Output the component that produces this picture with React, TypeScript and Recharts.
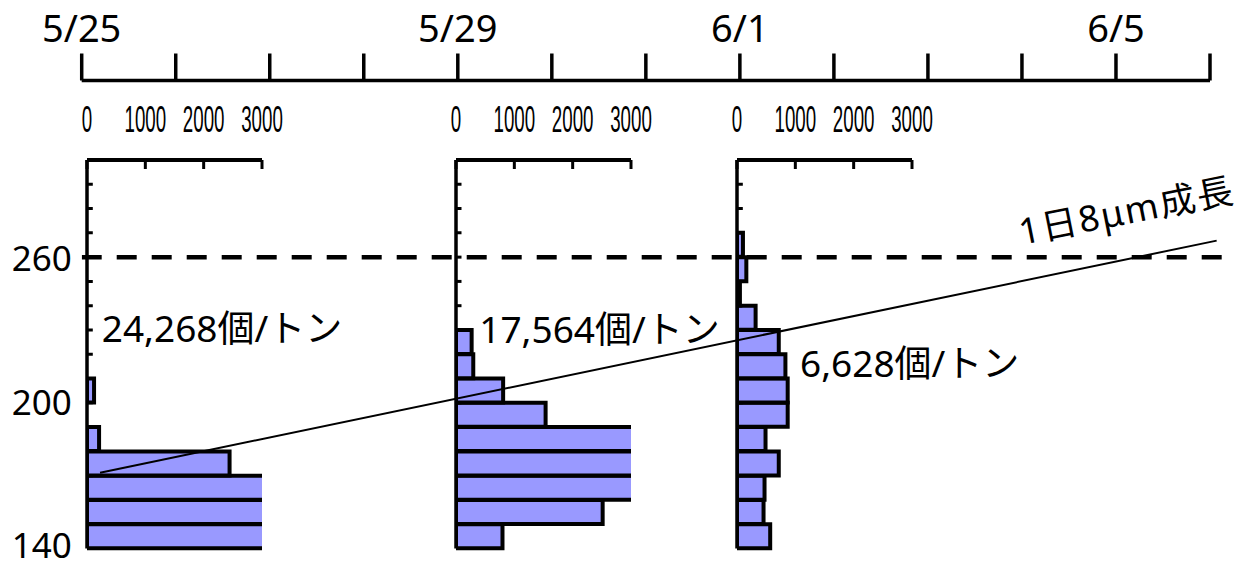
import React from 'react';
import { ComposedChart, BarChart, LineChart, Bar, Line, Scatter, XAxis, YAxis, ReferenceDot } from 'recharts';

const FONT = "'Noto Sans', 'Noto Sans CJK JP', sans-serif";

// shell length bins (lower edge, μm)
const bins = [140, 150, 160, 170, 180, 190, 200, 210, 220, 230, 240, 250, 260, 270, 280, 290];
// larvae per ton in each bin (bars beyond 3000 are clipped by the axis, as in the original)
const countsMay25 = [6800, 7900, 6796, 2444, 207, 0, 121, 0, 0, 0, 0, 0, 0, 0, 0, 0];
const countsMay29 = [797, 2514, 3300, 4400, 3645, 1536, 808, 296, 268, 0, 0, 0, 0, 0, 0, 0];
const countsJun1 = [569, 455, 472, 716, 489, 869, 869, 830, 716, 319, 50, 160, 102, 0, 0, 0];

const countTicks = [0, 1000, 2000, 3000];
const lengthTicks = [140, 150, 160, 170, 180, 190, 200, 210, 220, 230, 240, 250, 260, 270, 280, 290, 300];
const yLabelTicks = [140, 200, 260];

// timeline (days since 5/25)
const timelineDays = [0, 1, 2, 3, 4, 5, 6, 7, 8, 9, 10, 11, 12];
const dateLabels = ['5/25', '', '', '', '5/29', '', '', '6/1', '', '', '', '6/5', ''];

// where each histogram's length axis stands on the time axis (days since 5/25)
const histAxisDays = [0.0596, 3.9805, 6.9723];

// threshold line (260 μm) and growth line (8 μm / day)
const thresholdLine = [
  { day: 0.0, len: 260 },
  { day: 12.14, len: 260 },
];
const growthLine = [
  { day: 0.195, len: 171.2 },
  { day: 12.07, len: 266.8 },
];

const densityLabels = ['24,268個/トン', '17,564個/トン', '6,628個/トン'];
const growthLabel = '1日8μm成長';

const annotations = [
  { text: densityLabels[0], day: 0.213, len: 225.2, size: 37, angle: 0, spacing: 0 },
  { text: densityLabels[1], day: 4.228, len: 224.5, size: 37, angle: 0, spacing: 0 },
  { text: densityLabels[2], day: 7.639, len: 210.8, size: 37, angle: 0, spacing: 0 },
  { text: growthLabel, day: 9.997, len: 265.0, size: 36, angle: -11.3, spacing: 2 },
];

const NoTick = () => <g />;

// condensed tick labels (0 1000 2000 3000)
const CountTick = (props: any) => {
  const { x, y, payload } = props;
  const s = String(payload.value);
  return (
    <text
      transform={`translate(${x} ${y}) scale(0.52 1)`}
      x={0}
      y={0}
      textAnchor="middle"
      fontFamily="'Liberation Sans', Arial, sans-serif"
      fontSize={36}
      fill="#000"
    >
      {s}
    </text>
  );
};

// inward tick marks on each histogram's length axis
const TickMark = (p: any) => (
  <line x1={p.cx} y1={p.cy} x2={p.cx + 5.5} y2={p.cy} stroke="#000" strokeWidth={3} />
);

function Histogram({ counts, left }: { counts: number[]; left: number }) {
  const data = bins.map((b, i) => ({ bin: b, n: counts[i] }));
  return (
    <div style={{ position: 'absolute', left: left - 10, top: 99 }}>
      <BarChart
        layout="vertical"
        width={225}
        height={461.5}
        data={data}
        margin={{ top: 20, right: 40, bottom: 12, left: 10 }}
        barCategoryGap={0}
        barGap={0}
      >
        <Bar
          xAxisId="frame"
          yAxisId="cat"
          dataKey="n"
          fill="#9999ff"
          stroke="#000"
          strokeWidth={4}
          isAnimationActive={false}
        />
        <YAxis yAxisId="cat" type="category" dataKey="bin" reversed hide />
        <YAxis
          yAxisId="num"
          type="number"
          domain={[140, 300]}
          allowDataOverflow
          ticks={lengthTicks}
          interval={0}
          mirror
          tickSize={5}
          tick={<NoTick />}
          axisLine={{ stroke: '#000', strokeWidth: 3.5 }}
          tickLine={false}
        />
        <XAxis
          xAxisId="frame"
          type="number"
          orientation="top"
          mirror
          domain={[0, 3000]}
          allowDataOverflow
          ticks={countTicks}
          interval={0}
          tickSize={9}
          tick={<NoTick />}
          axisLine={{ stroke: '#000', strokeWidth: 4 }}
          tickLine={{ stroke: '#000', strokeWidth: 3 }}
        />
        <XAxis
          xAxisId="labels"
          type="number"
          orientation="top"
          height={41}
          domain={[0, 3000]}
          allowDataOverflow
          ticks={countTicks}
          interval={0}
          axisLine={false}
          tickLine={false}
          tickSize={0}
          tickMargin={28}
          tick={<CountTick />}
        />
      </BarChart>
    </div>
  );
}

const makeNote = (a: any) => (p: any) => {
  const vb = p.viewBox || {};
  const x = vb.x ?? 0;
  const y = vb.y ?? 0;
  return (
    <text
      x={x}
      y={y}
      fontSize={a.size}
      fill="#000"
      fontFamily={FONT}
      letterSpacing={a.spacing}
      transform={a.angle ? `rotate(${a.angle} ${x} ${y})` : undefined}
    >
      {a.text}
    </text>
  );
};

const YLabelTick = (props: any) => {
  const { x, y, payload } = props;
  const lift = payload.value === 140 ? -3 : payload.value === 260 ? 1.5 : 0;
  return (
    <text x={x} y={y + lift} dy={12.4} textAnchor="end" fontSize={35} fill="#000" fontFamily={FONT}>
      {payload.value}
    </text>
  );
};

export default function App() {
  const timeline = timelineDays.map((d) => ({ day: d, v: 0 }));
  const axisTickMarks = histAxisDays.flatMap((d) => lengthTicks.map((l) => ({ day: d, len: l })));
  return (
    <div
      style={{
        position: 'absolute',
        left: 0,
        top: 0,
        width: 1243,
        height: 562,
        background: '#fff',
        fontFamily: FONT,
        overflow: 'hidden',
      }}
    >
      <div style={{ position: 'absolute', left: 0, top: 0 }}>
        <LineChart width={1243} height={100} data={timeline} margin={{ top: 20.5, right: 33, bottom: 0, left: 81.7 }}>
          <YAxis hide />
          <Line dataKey="v" stroke="none" dot={false} isAnimationActive={false} />
          <XAxis
            dataKey="day"
            type="number"
            orientation="top"
            height={60}
            domain={[0, 12]}
            allowDataOverflow
            ticks={timelineDays}
            interval={0}
            tickSize={27}
            tickMargin={12}
            tickFormatter={(d: number) => dateLabels[d] ?? ''}
            axisLine={{ stroke: '#000', strokeWidth: 3.5 }}
            tickLine={{ stroke: '#000', strokeWidth: 3.5 }}
            tick={{ fontSize: 38, fill: '#000' }}
          />
        </LineChart>
      </div>

      <Histogram counts={countsMay25} left={87.3} />
      <Histogram counts={countsMay29} left={456} />
      <Histogram counts={countsJun1} left={737.3} />

      <div style={{ position: 'absolute', left: 0, top: 0 }}>
        <ComposedChart width={1243} height={562} margin={{ top: 160, right: 4.7, bottom: 13.5, left: 0 }}>
          <XAxis dataKey="day" type="number" domain={[0, 12.3]} allowDataOverflow hide />
          <YAxis
            type="number"
            domain={[140, 300]}
            allowDataOverflow
            ticks={yLabelTicks}
            interval={0}
            width={81.7}
            axisLine={false}
            tickLine={false}
            tickSize={0}
            tickMargin={10}
            tick={<YLabelTick />}
          />
          <Scatter data={axisTickMarks} dataKey="len" shape={TickMark} isAnimationActive={false} />
          <Line
            data={thresholdLine}
            dataKey="len"
            stroke="#000"
            strokeWidth={4.5}
            strokeDasharray="20 15"
            dot={false}
            isAnimationActive={false}
          />
          <Line
            data={growthLine}
            dataKey="len"
            stroke="#000"
            strokeWidth={2}
            dot={false}
            isAnimationActive={false}
          />
          {annotations.map((a, i) => (
            <ReferenceDot
              key={i}
              x={a.day}
              y={a.len}
              r={0}
              fill="none"
              stroke="none"
              ifOverflow="visible"
              label={makeNote(a)}
            />
          ))}
        </ComposedChart>
      </div>
    </div>
  );
}
